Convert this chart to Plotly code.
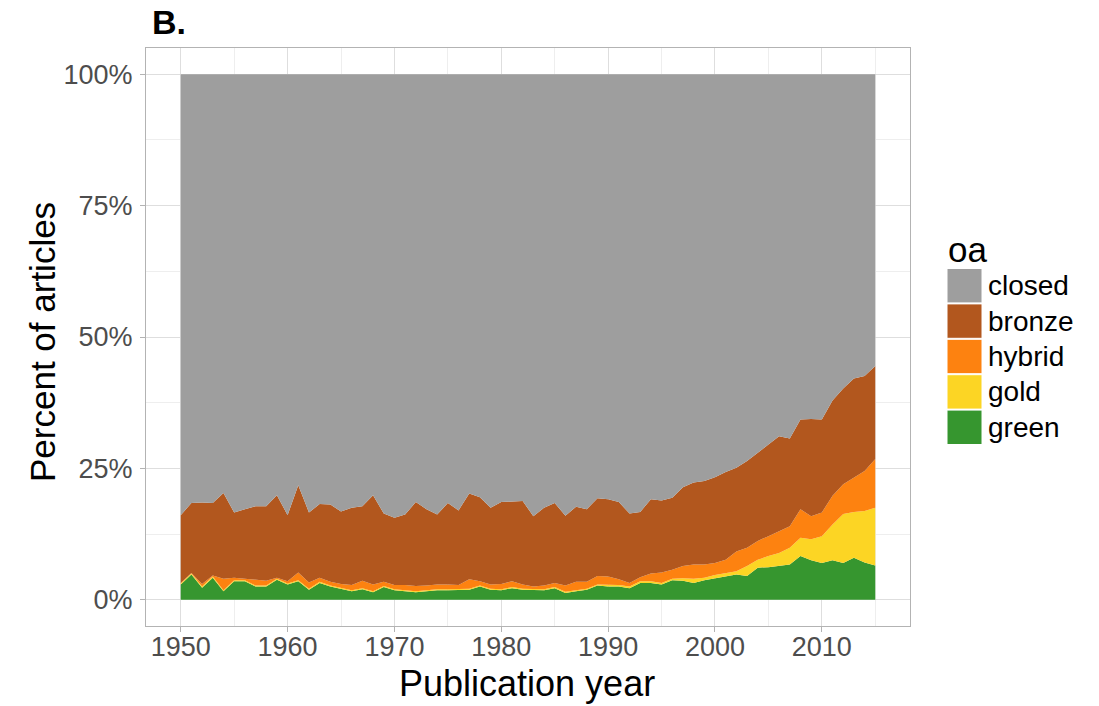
import plotly.graph_objects as go

years = list(range(1950, 2016))

green = [2.9, 4.8, 2.3, 4.2, 1.6, 3.5, 3.5, 2.5, 2.5, 3.8,
         2.9, 3.5, 1.9, 3.2, 2.5, 2.1, 1.6, 2.0, 1.4, 2.4,
         1.8, 1.6, 1.4, 1.6, 1.8, 1.8, 1.8, 1.9, 2.5, 1.9,
         1.8, 2.2, 1.9, 1.8, 1.8, 2.2, 1.3, 1.6, 1.9, 2.7,
         2.5, 2.5, 2.2, 3.2, 3.2, 2.9, 3.7, 3.6, 3.2, 3.7,
         4.1, 4.5, 4.8, 4.5, 6.1, 6.2, 6.4, 6.7, 8.3, 7.5,
         7.0, 7.5, 7.0, 8.0, 7.1, 6.5]

gold = [0.2, 0.2, 0.2, 0.2, 0.2, 0.2, 0.2, 0.2, 0.2, 0.2,
        0.2, 0.2, 0.2, 0.2, 0.2, 0.2, 0.2, 0.2, 0.2, 0.2,
        0.2, 0.2, 0.2, 0.2, 0.2, 0.2, 0.2, 0.2, 0.2, 0.2,
        0.2, 0.2, 0.2, 0.2, 0.2, 0.2, 0.2, 0.2, 0.2, 0.2,
        0.3, 0.3, 0.3, 0.3, 0.3, 0.3, 0.3, 0.5, 0.8, 0.5,
        0.6, 0.6, 0.6, 1.9, 1.5, 2.1, 2.5, 3.2, 3.5, 4.0,
        5.1, 6.8, 9.3, 8.7, 9.8, 11.0]

hybrid = [0.1, 0.1, 0.5, 0.2, 2.2, 0.5, 0.3, 1.1, 0.9, 0.2,
          0.4, 1.5, 1.2, 0.8, 0.7, 0.7, 1.0, 1.4, 1.3, 0.8,
          0.8, 1.0, 1.0, 0.9, 0.9, 0.9, 0.8, 1.8, 0.8, 0.8,
          1.0, 1.1, 0.8, 0.5, 0.7, 0.8, 1.2, 1.6, 1.3, 1.6,
          1.6, 1.1, 0.7, 0.8, 1.5, 2.0, 1.7, 2.3, 2.7, 2.5,
          2.3, 2.5, 3.8, 3.5, 3.6, 3.8, 4.2, 4.1, 5.4, 4.4,
          4.5, 5.5, 5.7, 6.6, 7.6, 9.3]

bronze = [12.9, 13.3, 15.5, 13.8, 16.3, 12.4, 13.2, 14.0, 14.2, 15.7,
          12.6, 16.6, 13.3, 14.0, 14.7, 13.8, 14.7, 14.2, 17.0, 13.0,
          12.8, 13.4, 16.0, 14.5, 13.3, 15.5, 14.2, 16.3, 16.0, 14.6,
          15.6, 15.2, 15.9, 13.4, 14.8, 15.2, 13.3, 14.3, 13.8, 14.8,
          14.7, 14.7, 13.2, 12.4, 14.1, 13.7, 13.7, 15.0, 15.6, 15.9,
          16.3, 16.7, 15.9, 16.5, 16.8, 17.5, 18.0, 16.7, 17.1, 18.5,
          17.7, 18.1, 18.2, 18.8, 18.1, 17.7]

closed = [83.9, 81.6, 81.5, 81.6, 79.7, 83.4, 82.8, 82.2, 82.2, 80.1,
          83.9, 78.2, 83.4, 81.8, 81.9, 83.2, 82.5, 82.2, 80.1, 83.6,
          84.4, 83.8, 81.4, 82.8, 83.8, 81.6, 83.0, 79.8, 80.5, 82.5,
          81.4, 81.3, 81.2, 84.1, 82.5, 81.6, 84.0, 82.3, 82.8, 80.7,
          80.9, 81.4, 83.6, 83.3, 80.9, 81.1, 80.6, 78.6, 77.7, 77.4,
          76.7, 75.7, 74.9, 73.6, 72.0, 70.4, 68.9, 69.3, 65.7, 65.6,
          65.7, 62.1, 59.8, 57.9, 57.4, 55.5]

categories = ["closed", "bronze", "hybrid", "gold", "green"]
colors = {"closed": "#9E9E9E", "bronze": "#B2571E", "hybrid": "#FD8210",
          "gold": "#FCD524", "green": "#36962F"}
series = {"closed": closed, "bronze": bronze, "hybrid": hybrid,
          "gold": gold, "green": green}

y_tickvals = [0, 25, 50, 75, 100]
y_ticktext = ["0%", "25%", "50%", "75%", "100%"]
x_tickvals = [1950, 1960, 1970, 1980, 1990, 2000, 2010]

fig = go.Figure()
for cat in reversed(categories):
    fig.add_trace(go.Scatter(
        x=years, y=series[cat], name=cat, mode="lines",
        stackgroup="one", line=dict(width=0, color=colors[cat]),
        fillcolor=colors[cat], showlegend=False,
    ))

W, H = 1099, 706
L, R, T, B = 146, 910, 48, 626


def px_x(X):
    return (X - L) / (R - L)


def px_y(Y):
    return (B - Y) / (B - T)


font_family = "Liberation Sans, Arial, sans-serif"

shapes = []
annotations = []
# legend title
annotations.append(dict(x=px_x(946), y=px_y(249), xref="paper", yref="paper",
                        text="oa", showarrow=False, xanchor="left", yanchor="middle",
                        font=dict(size=35, color="black", family=font_family)))
key_top = 268
key_h = 35.4
for i, cat in enumerate(categories):
    y0 = key_top + i * key_h
    shapes.append(dict(type="rect", xref="paper", yref="paper",
                       x0=px_x(947), x1=px_x(982), y0=px_y(y0 + 0.5), y1=px_y(y0 + key_h - 0.5),
                       fillcolor=colors[cat], line=dict(width=1, color="white")))
    annotations.append(dict(x=px_x(986), y=px_y(y0 + key_h / 2), xref="paper", yref="paper",
                            text=cat, showarrow=False, xanchor="left", yanchor="middle",
                            font=dict(size=28, color="black", family=font_family)))

annotations.append(dict(x=px_x(150), y=px_y(22), xref="paper", yref="paper",
                        text="<b>B.</b>", showarrow=False, xanchor="left", yanchor="middle",
                        font=dict(size=34, color="black", family=font_family)))
# axis titles
annotations.append(dict(x=px_x(42), y=px_y(342), xref="paper", yref="paper",
                        text="Percent of articles", showarrow=False, textangle=-90,
                        xanchor="center", yanchor="middle",
                        font=dict(size=35, color="black", family=font_family)))
annotations.append(dict(x=px_x(527), y=px_y(683), xref="paper", yref="paper",
                        text="Publication year", showarrow=False,
                        xanchor="center", yanchor="middle",
                        font=dict(size=36, color="black", family=font_family)))

fig.update_layout(
    width=W, height=H,
    margin=dict(l=L, r=W - R, t=T, b=H - B, autoexpand=False),
    paper_bgcolor="white", plot_bgcolor="white",
    font=dict(family=font_family),
    shapes=shapes, annotations=annotations,
    showlegend=False,
)
fig.update_xaxes(
    range=[1946.75, 2018.25], tickvals=x_tickvals,
    showgrid=True, gridcolor="#DEDEDE", gridwidth=1,
    minor=dict(dtick=5, tick0=1945, showgrid=True, gridcolor="#EEEEEE", gridwidth=1),
    ticks="outside", ticklen=5, tickcolor="#B3B3B3",
    tickfont=dict(size=27, color="#4D4D4D"),
    ticklabelstandoff=-8,
    showline=True, linecolor="#B3B3B3", mirror=True, linewidth=1,
    zeroline=False,
    automargin=False,
)
fig.update_yaxes(
    range=[-5, 105], tickvals=y_tickvals, ticktext=y_ticktext,
    showgrid=True, gridcolor="#DEDEDE", gridwidth=1,
    minor=dict(tickvals=[12.5, 37.5, 62.5, 87.5], showgrid=True, gridcolor="#EEEEEE", gridwidth=1),
    ticks="outside", ticklen=5, tickcolor="#B3B3B3",
    tickfont=dict(size=27, color="#4D4D4D"),
    ticklabelstandoff=2,
    showline=True, linecolor="#B3B3B3", mirror=True, linewidth=1,
    zeroline=False,
    automargin=False,
)

fig.write_html("out.html", config={"displayModeBar": False},
               post_script="document.body.style.margin='0px';")
